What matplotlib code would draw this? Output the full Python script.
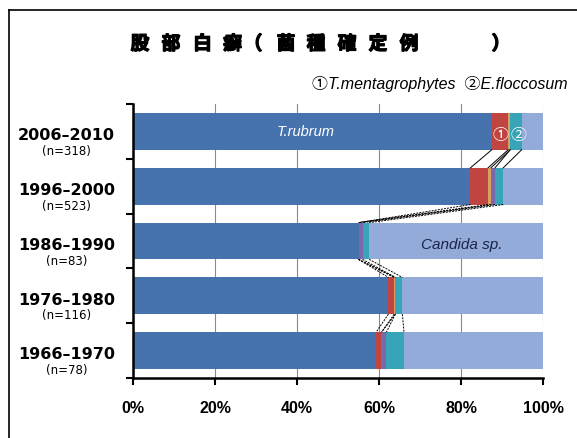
import matplotlib
matplotlib.use('Agg')
import matplotlib.pyplot as plt
import matplotlib.patheffects as pe
from matplotlib.lines import Line2D
import numpy as np

# ---- data (percent of confirmed cases) ----
periods = ['2006–2010', '1996–2000', '1986–1990', '1976–1980', '1966–1970']
counts = ['(n=318)', '(n=523)', '(n=83)', '(n=116)', '(n=78)']
t_rubrum = [87.5, 82.3, 55.0, 62.3, 59.3]
t_menta = [4.0, 4.3, 0.0, 1.4, 1.3]
other_a = [0.5, 0.7, 0.0, 0.3, 0.0]
other_b = [0.0, 1.0, 1.0, 0.0, 1.2]
e_flocc = [2.8, 2.0, 1.6, 1.7, 4.3]
candida = [5.2, 9.7, 42.4, 34.3, 33.9]
xticks = [0, 20, 40, 60, 80, 100]
xticklabels = ['0%', '20%', '40%', '60%', '80%', '100%']
title_chars = ['股', '部', '白', '癬', '（', '菌', '種', '確', '定', '例', '）']

series = [t_rubrum, t_menta, other_a, other_b, e_flocc, candida]
colors = ['#4672ae', '#c0443f', '#d9a064', '#7a67ad', '#37a5b7', '#93abd8']

W, H = 577, 439
fig = plt.figure(figsize=(W / 100, H / 100), dpi=100)
fig.patch.set_facecolor('white')
ax = fig.add_axes([133 / W, 1 - 379 / H, 410 / W, 274 / H])

y = np.arange(len(periods))
h = 0.67
left = np.zeros(len(periods))
cums = []
for vals, c in zip(series, colors):
    vals = np.array(vals)
    ax.barh(y, vals, left=left, height=h, color=c, edgecolor='none', zorder=2)
    left = left + vals
    cums.append(left.copy())

# series lines between adjacent bars
for s, cum in enumerate(cums[:-1]):
    for i in range(len(periods) - 1):
        ls = '-' if i == 0 else (0, (2.0, 1.2))
        ax.plot([cum[i], cum[i + 1]], [y[i] + h / 2, y[i + 1] - h / 2],
                color='black', lw=0.7, ls=ls, zorder=3)

ax.set_xlim(0, 100)
ax.set_ylim(len(periods) - 0.5, -0.5)
ax.set_xticks(xticks)
ax.set_xticklabels(xticklabels, fontfamily='Liberation Sans', fontweight='bold', fontsize=11.5)
ax.tick_params(axis='x', direction='out', length=5, width=1.5, pad=11)
ax.set_yticks([])
ax.set_yticks(np.arange(-0.5, len(periods), 1.0), minor=True)
ax.tick_params(axis='y', which='minor', direction='out', length=5, width=1.5)
ax.xaxis.grid(True, color='#8a8a8a', lw=0.8, zorder=0)
ax.set_axisbelow(True)
for sp in ['top', 'right']:
    ax.spines[sp].set_visible(False)
for sp in ['left', 'bottom']:
    ax.spines[sp].set_linewidth(1.8)
    ax.spines[sp].set_color('black')

tr = ax.get_yaxis_transform()
for i, (p, n) in enumerate(zip(periods, counts)):
    ax.text(-0.162, y[i] + 0.06, p, transform=tr, ha='center', va='center',
            fontfamily='DejaVu Sans', fontweight='bold', fontsize=11.5)
    ax.text(-0.162, y[i] + 0.35, n, transform=tr, ha='center', va='center',
            fontfamily='DejaVu Sans', fontsize=8.5)

# labels inside bars
ax.text(42, y[0], 'T.rubrum', ha='center', va='center', color='white',
        fontfamily='Liberation Sans', style='italic', fontsize=10.5, zorder=4)
ax.text(t_rubrum[0] + (t_menta[0] + other_a[0]) / 2, y[0] + 0.05, '①', ha='center', va='center',
        color='white', fontfamily='Noto Sans CJK JP', fontsize=11.5, zorder=4)
ax.text(cums[4][0] - e_flocc[0] / 2 + 0.6, y[0] + 0.05, '②', ha='center', va='center',
        color='white', fontfamily='Noto Sans CJK JP', fontsize=11.5, zorder=4)
ax.text(80.2, y[2] + 0.05, 'Candida sp.', ha='center', va='center', color='#1c2448',
        fontfamily='Liberation Sans', style='italic', fontsize=11, zorder=4)

# title (each character placed to mimic wide letter spacing)
title_x = [140, 171, 202.5, 232.5, 253, 286, 316, 347, 378, 409, 501]
for ch, xc in zip(title_chars, title_x):
    fig.text(xc / W, 1 - 45 / H, ch, ha='center', va='center',
             fontfamily='Noto Sans CJK JP', fontweight='bold', fontsize=13.5,
             path_effects=[pe.withStroke(linewidth=0.9, foreground='black')])

# legend note
fig.text(568 / W, 1 - 84 / H, '①T.mentagrophytes  ②E.floccosum', ha='right', va='center',
         family=['Liberation Sans', 'Noto Sans CJK JP'], style='italic', fontsize=11.5)

# outer frame (left and top only visible)
fig.add_artist(Line2D([9 / W, 9 / W], [0, 1 - 11 / H], transform=fig.transFigure,
                      color='black', lw=1.2))
fig.add_artist(Line2D([9 / W, 1], [1 - 11 / H, 1 - 11 / H], transform=fig.transFigure,
                      color='black', lw=1.2))

fig.savefig('out.png', dpi=100, facecolor='white')
